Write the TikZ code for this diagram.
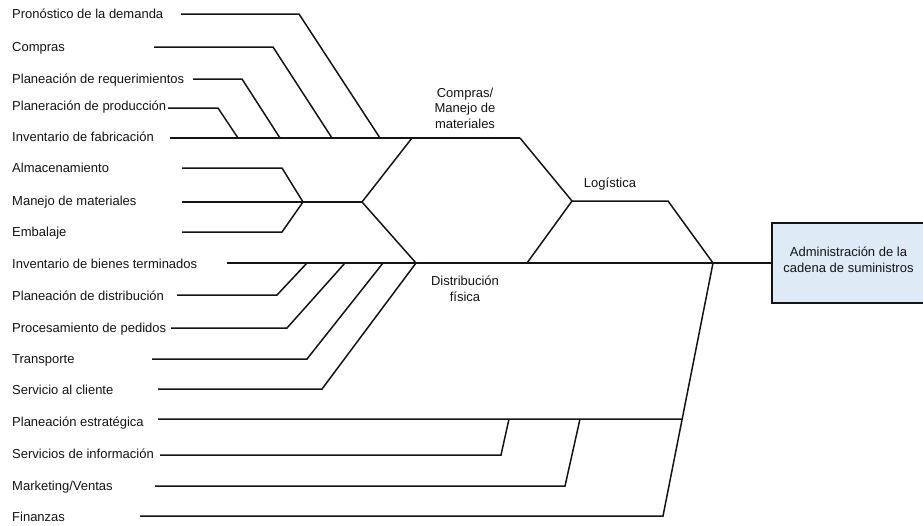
\documentclass[tikz,border=0pt]{standalone}
\usepackage{fontspec}
\setmainfont{Liberation Sans}
\usetikzlibrary{calc}
\definecolor{boxfill}{RGB}{222,234,246}
\definecolor{ink}{RGB}{20,20,20}
\begin{document}
\begin{tikzpicture}[x=1pt,y=-1pt,
  lbl/.style={anchor=west, inner sep=0pt, text height=9.3pt, text depth=0pt,
              font=\fontsize{13}{15}\selectfont, text=ink},
  brcap/.style={align=center, inner sep=0pt, font=\fontsize{13}{15.5}\selectfont, text=ink},
  bone/.style={draw=ink, line width=1.5pt, line join=miter},
  goal/.style={draw=ink, line width=1.5pt, fill=boxfill, minimum width=153pt,
               minimum height=80pt, align=center, inner sep=0pt,
               font=\fontsize{13}{15}\selectfont, text=ink}]
\useasboundingbox (0,0) rectangle (923,525);

% ---- labels on the left ----
\node[lbl] (pron)  at (12,14)  {Pronóstico de la demanda};
\node[lbl] (comp)  at (12,47)  {Compras};
\node[lbl] (preq)  at (12,79)  {Planeación de requerimientos};
\node[lbl] (pprod) at (12,106) {Planeración de producción};
\node[lbl] (ifab)  at (12,137) {Inventario de fabricación};
\node[lbl] (alm)   at (12,168) {Almacenamiento};
\node[lbl] (mmat)  at (12,201) {Manejo de materiales};
\node[lbl] (emb)   at (12,232) {Embalaje};
\node[lbl] (ibt)   at (12,264) {Inventario de bienes terminados};
\node[lbl] (pdis)  at (12,296) {Planeación de distribución};
\node[lbl] (proc)  at (12,328) {Procesamiento de pedidos};
\node[lbl] (trn)   at (12,359) {Transporte};
\node[lbl] (serv)  at (12,390) {Servicio al cliente};
\node[lbl] (pest)  at (12,422) {Planeación estratégica};
\node[lbl] (sinf)  at (12,454) {Servicios de información};
\node[lbl] (mkt)   at (12,486) {Marketing/Ventas};
\node[lbl] (fin)   at (12,517) {Finanzas};

% ---- branch captions ----
\node[brcap] (cmm) at (465,108) {Compras/\\Manejo de\\materiales};
\node[brcap] (log) at (610,184) {Logística};
\node[brcap] (dfi) at (465,289) {Distribución\\física};

% ---- goal box ----
\node[goal] (scm) at (848.5,263) {};
\node[brcap] (scmtxt) at (848.5,260) {Administración de la\\cadena de suministros};

% ---- junction points ----
\coordinate (jTop)  at (412,138);
\coordinate (jMid)  at (362,202);
\coordinate (jBot)  at (416,263);
\coordinate (topR)  at (520,138);
\coordinate (jLog)  at (572,201);
\coordinate (logR)  at (668,201);
\coordinate (jLogB) at (527,263);
\coordinate (jMain) at (713,263);
\coordinate (finK)  at (663,516);
\coordinate (jEst)  at ($(jMain)!0.6166!(finK)$);

% ---- top group: Compras / Manejo de materiales ----
\draw[bone] (181,14)  -- (299,14)  -- (380,138);
\draw[bone] (154,47)  -- (273,47)  -- (332,138);
\draw[bone] (193,79)  -- (242,79)  -- (280,138);
\draw[bone] (168,108) -- (218,108) -- (238,138);
\draw[bone] (170,138) -- (jTop) -- (topR);

% ---- middle group ----
\draw[bone] (182,168) -- (282,168) -- (303,202);
\draw[bone] (182,232) -- (282,232) -- (303,202);
\draw[bone] (182,202) -- (jMid);
\draw[bone] (jTop) -- (jMid) -- (jBot);

% ---- lower group: Distribución física ----
\draw[bone] (177,295) -- (277,295) -- (307,263);
\draw[bone] (171,328) -- (287,328) -- (345,263);
\draw[bone] (152,359) -- (307,359) -- (383,263);
\draw[bone] (158,389) -- (322,389) -- (jBot);

% ---- Logística ----
\draw[bone] (topR) -- (jLog) -- (logR) -- (jMain);
\draw[bone] (jLog) -- (jLogB);

% ---- main spine ----
\draw[bone] (227,263) -- (jBot) -- (jLogB) -- (jMain) -- (scm.west);

% ---- strategic group ----
\draw[bone] (jMain) -- (finK) -- (140,516);
\draw[bone] (158,419) -- (jEst);
\draw[bone] (160,455) -- (501,455) -- (509,419);
\draw[bone] (155,486) -- (565,486) -- (580,419);
\end{tikzpicture}
\end{document}
